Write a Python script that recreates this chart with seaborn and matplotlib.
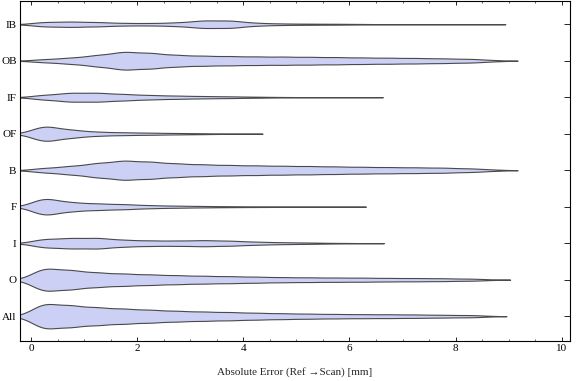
import numpy as np
import pandas as pd
import seaborn as sns
import matplotlib.pyplot as plt
from matplotlib.ticker import MultipleLocator

# groups, top to bottom
groups = ['IB', 'OB', 'IF', 'OF', 'B', 'F', 'I', 'O', 'All']

# error bins [mm] and number of points per bin
bins_mm = [0.25, 0.75, 1.25, 1.75, 2.25, 2.75, 3.25, 3.75, 4.25,
           4.75, 5.25, 5.75, 6.25, 6.75, 7.25, 7.75, 8.25]
n_ib = [26, 30, 24, 14, 13, 20, 43, 42, 15, 8, 6, 5, 3, 0, 0, 0, 0]
n_ob = [13, 25, 46, 74, 63, 46, 40, 37, 34, 33, 31, 29, 26, 24, 22, 19, 15]
n_if = [34, 63, 62, 44, 30, 22, 16, 12, 7, 3, 1, 0, 0, 0, 0, 0, 0]
n_of = [211, 103, 51, 36, 27, 18, 12, 0, 0, 0, 0, 0, 0, 0, 0, 0, 0]
n_b = [18, 33, 56, 76, 66, 52, 45, 40, 37, 34, 32, 29, 26, 24, 22, 20, 14]
n_f = [192, 95, 70, 55, 32, 22, 15, 10, 7, 5, 2, 0, 0, 0, 0, 0, 0]
n_i = [47, 56, 58, 36, 29, 28, 33, 27, 16, 10, 7, 3, 0, 0, 0, 0, 0]
n_o = [124, 99, 74, 63, 54, 46, 40, 36, 31, 26, 24, 22, 21, 18, 17, 15, 10]
n_all = [132, 108, 88, 75, 64, 53, 46, 41, 34, 29, 25, 22, 20, 19, 17, 14, 10]

# largest error of each group and how many points sit there
max_mm = [8.44, 8.67, 6.13, 3.86, 8.67, 5.81, 6.15, 8.53, 8.46]
max_n = [1, 5, 1, 4, 5, 2, 1, 3, 3]

counts = dict(zip(groups, [n_ib, n_ob, n_if, n_of, n_b, n_f, n_i, n_o, n_all]))

frames = []
for g, top, k in zip(groups, max_mm, max_n):
    err = np.append(np.repeat(bins_mm, counts[g]), [top] * k)
    frames.append(pd.DataFrame({'group': g, 'err': err}))
df = pd.concat(frames, ignore_index=True)


def bw_fixed(kde):
    # same kernel width (0.25 mm) for every group
    return 0.25 / kde.dataset.std(ddof=1)


sns.set_style('ticks')
plt.rcParams['font.family'] = ['Liberation Serif', 'DejaVu Serif']
plt.rcParams['axes.linewidth'] = 0.8

fig = plt.figure(figsize=(5.76, 3.81), dpi=100)
ax = fig.add_axes([20 / 576, 1 - 341 / 381, 549.5 / 576, 340.5 / 381])

sns.violinplot(data=df, x='err', y='group', order=groups, orient='h',
               inner=None, cut=2, gridsize=400, bw_method=bw_fixed,
               density_norm='count', width=0.668, color='#CBD0F4',
               saturation=1, linecolor='#4a4a4a', linewidth=0.8, ax=ax)

ax.set_xlim(-0.215, 10.15)
ax.set_ylim(8.68, -0.65)
ax.xaxis.set_major_locator(MultipleLocator(2))
ax.xaxis.set_minor_locator(MultipleLocator(0.5))
ax.set_yticks(range(len(groups)), minor=True)

ax.tick_params(axis='x', which='major', direction='in', length=3, width=0.6,
               top=True, bottom=True, labelsize=8, pad=2, colors='black')
ax.tick_params(axis='x', which='minor', direction='in', length=1.6,
               width=0.5, top=True, bottom=True)
ax.tick_params(axis='y', which='major', direction='in', length=4, width=0.6,
               left=True, right=True, labelsize=8, pad=2.5, colors='black')
ax.tick_params(axis='y', which='minor', direction='out', length=5,
               width=0.6, left=True, right=False)

for s in ax.spines.values():
    s.set_visible(True)
    s.set_color('black')

ax.set_ylabel('')
ax.set_xlabel('Absolute Error (Ref \u2192Scan) [mm]', fontsize=8, labelpad=10)

plt.savefig('out.png', dpi=100)
